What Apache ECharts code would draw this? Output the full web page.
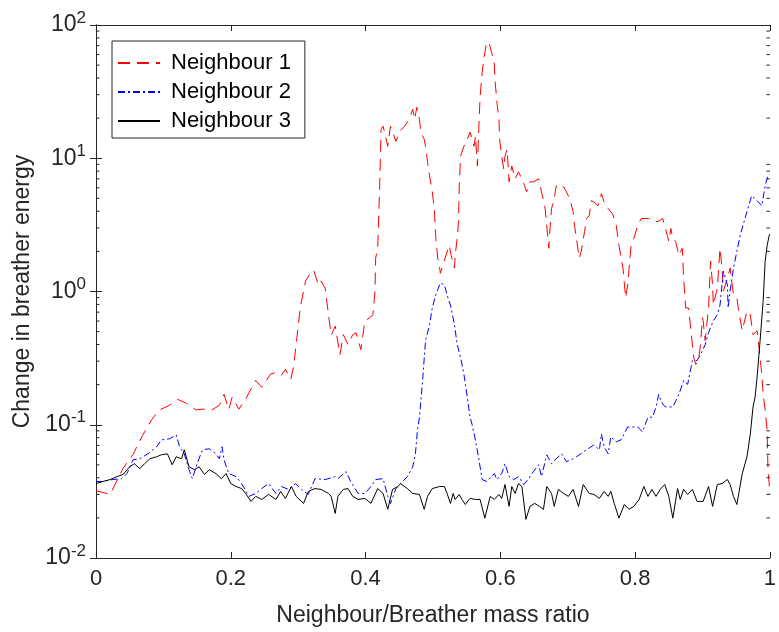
<!DOCTYPE html>
<html><head><meta charset="utf-8">
<script src="https://cdn.jsdelivr.net/npm/echarts@6/dist/echarts.min.js"></script>
<style>html,body{margin:0;padding:0;background:#fff}#c{width:779px;height:632px}</style>
</head><body><div id="c"></div>
<script>
const seriesNames = ['Neighbour 1', 'Neighbour 2', 'Neighbour 3'];
const xTickValues = [0, 0.2, 0.4, 0.6, 0.8, 1];
const yDecadeExponents = [-2, -1, 0, 1, 2];

const n1x = [0,0.021,0.040,0.055,0.069,0.083,0.094,0.109,0.121,0.134,0.138,0.149,0.158,0.168,0.172,0.183,0.190,0.197,0.202,0.212,0.222,0.237,0.246,0.259,0.267,0.275,0.281,0.289,0.293,0.297,0.303,0.311,0.318,0.323,0.330,0.334,0.340,0.345,0.349,0.355,0.362,0.367,0.374,0.381,0.386,0.393,0.399,0.406,0.411,0.414,0.415,0.418,0.421,0.423,0.426,0.433,0.437,0.445,0.451,0.458,0.465,0.470,0.473,0.476,0.480,0.482,0.487,0.489,0.492,0.495,0.499,0.502,0.504,0.507,0.510,0.511,0.518,0.524,0.527,0.532,0.533,0.536,0.538,0.539,0.541,0.546,0.551,0.555,0.561,0.563,0.566,0.568,0.570,0.573,0.576,0.579,0.583,0.586,0.591,0.592,0.595,0.598,0.599,0.602,0.605,0.607,0.610,0.613,0.617,0.622,0.627,0.632,0.636,0.639,0.644,0.649,0.657,0.661,0.666,0.668,0.672,0.673,0.676,0.680,0.683,0.686,0.694,0.698,0.703,0.708,0.710,0.713,0.717,0.720,0.725,0.728,0.732,0.735,0.739,0.745,0.750,0.754,0.760,0.767,0.772,0.776,0.782,0.786,0.789,0.794,0.798,0.804,0.809,0.820,0.826,0.834,0.841,0.845,0.850,0.853,0.856,0.860,0.865,0.870,0.872,0.875,0.879,0.882,0.885,0.887,0.890,0.894,0.897,0.900,0.901,0.904,0.909,0.912,0.915,0.916,0.922,0.926,0.929,0.931,0.937,0.941,0.946,0.951,0.953,0.959,0.966,0.971,0.975,0.981,0.985,0.988,0.990,0.993,0.996,0.997,1.0];
const n1y = [0.032,0.030,0.047,0.060,0.083,0.11,0.129,0.140,0.155,0.145,0.140,0.129,0.131,0.130,0.129,0.140,0.169,0.130,0.161,0.131,0.156,0.215,0.191,0.240,0.247,0.235,0.260,0.219,0.269,0.40,0.75,1.20,1.37,1.45,1.12,1.20,1.06,0.67,0.47,0.55,0.336,0.474,0.40,0.474,0.49,0.366,0.60,0.635,0.67,1.01,1.78,2.1,6.2,16.5,17.4,12.3,17.4,13.4,16.0,17.4,19.6,23.3,19.6,24.1,19.6,15.7,13.9,12.3,9.38,7.38,5.6,4.19,2.64,1.78,1.5,1.37,1.78,2.22,1.87,1.5,1.87,2.5,3.4,6.2,10.4,12.3,13.9,15.7,12.3,14.7,8.76,16.5,29.1,43.9,57.7,71,74.7,65.1,52.1,38.9,26.2,19.6,13.9,10.4,8.32,10.4,11.7,6.65,8.76,7.0,7.9,7.0,6.21,5.6,6.65,6.65,7.0,5.6,4.4,3.5,2.11,2.64,4.19,4.97,6.21,5.9,6.1,5.6,4.97,3.98,3.13,2.5,1.78,2.0,2.82,3.53,3.72,4.8,4.7,4.4,5.42,4.7,4.19,3.8,3.13,2.22,1.5,0.895,1.12,2.22,2.5,3.13,3.53,3.53,3.35,3.35,3.53,2.97,2.38,2.97,2.5,2.38,1.87,2.11,1.26,0.753,0.753,0.562,0.399,0.32,0.284,0.303,0.399,0.635,0.60,0.428,0.753,1.69,1.12,0.79,1.06,2.11,1.5,1.01,1.26,1.5,0.94,0.895,0.753,0.508,0.716,0.668,0.474,0.508,0.336,0.239,0.169,0.129,0.09,0.05,0.03];

const n2x = [0,0.010,0.025,0.038,0.046,0.055,0.065,0.077,0.090,0.097,0.109,0.119,0.124,0.131,0.138,0.143,0.150,0.158,0.168,0.178,0.183,0.187,0.190,0.197,0.208,0.216,0.227,0.237,0.246,0.256,0.267,0.275,0.286,0.296,0.305,0.315,0.325,0.340,0.355,0.359,0.371,0.378,0.389,0.399,0.408,0.415,0.426,0.433,0.437,0.445,0.452,0.462,0.470,0.474,0.477,0.480,0.485,0.489,0.495,0.499,0.504,0.511,0.517,0.521,0.526,0.532,0.536,0.541,0.546,0.551,0.555,0.558,0.563,0.568,0.573,0.580,0.591,0.595,0.602,0.607,0.613,0.620,0.627,0.635,0.642,0.649,0.657,0.661,0.669,0.676,0.683,0.691,0.698,0.708,0.713,0.728,0.739,0.747,0.750,0.754,0.760,0.764,0.772,0.779,0.789,0.797,0.804,0.811,0.819,0.826,0.831,0.835,0.838,0.841,0.845,0.856,0.865,0.872,0.878,0.885,0.892,0.900,0.904,0.909,0.916,0.922,0.926,0.931,0.937,0.938,0.941,0.946,0.951,0.956,0.963,0.966,0.973,0.981,0.988,0.993,0.997,1.0];
const n2y = [0.0375,0.0375,0.0388,0.0394,0.043,0.0546,0.0556,0.0605,0.0683,0.077,0.0784,0.0839,0.0683,0.0605,0.046,0.0394,0.051,0.0649,0.066,0.0605,0.0556,0.0683,0.0546,0.043,0.0408,0.0362,0.029,0.0305,0.0332,0.0362,0.0305,0.0344,0.0327,0.0362,0.0327,0.030,0.0394,0.0388,0.0408,0.0394,0.0445,0.0375,0.0305,0.0305,0.0344,0.0388,0.0394,0.029,0.0257,0.0332,0.0362,0.0408,0.0484,0.0605,0.0914,0.114,0.227,0.428,0.562,0.753,0.94,1.16,1.12,0.94,0.79,0.562,0.399,0.32,0.239,0.161,0.114,0.101,0.077,0.0556,0.0388,0.0375,0.043,0.0388,0.043,0.051,0.0408,0.0388,0.0408,0.0356,0.0394,0.0445,0.0501,0.0408,0.0595,0.051,0.0556,0.0605,0.0528,0.0556,0.0575,0.0649,0.0706,0.0649,0.0853,0.0683,0.0605,0.0811,0.0744,0.077,0.0962,0.0962,0.0962,0.0883,0.114,0.114,0.136,0.169,0.153,0.143,0.136,0.136,0.169,0.215,0.201,0.303,0.303,0.36,0.399,0.491,0.603,0.668,0.79,1.42,1.12,0.753,1.01,1.5,2.0,2.64,3.53,3.98,5.24,4.8,4.4,6.21,7.38,7.5];

const n3x = [0,0.010,0.021,0.031,0.040,0.050,0.057,0.065,0.072,0.080,0.090,0.097,0.106,0.113,0.119,0.127,0.131,0.138,0.146,0.153,0.161,0.168,0.178,0.186,0.193,0.200,0.208,0.216,0.222,0.230,0.237,0.246,0.256,0.267,0.274,0.281,0.290,0.297,0.308,0.315,0.325,0.334,0.345,0.349,0.355,0.359,0.367,0.374,0.381,0.389,0.399,0.408,0.418,0.426,0.433,0.440,0.448,0.452,0.462,0.470,0.480,0.487,0.492,0.499,0.510,0.517,0.521,0.526,0.530,0.533,0.539,0.543,0.548,0.555,0.563,0.570,0.577,0.585,0.591,0.598,0.602,0.607,0.613,0.617,0.622,0.627,0.632,0.638,0.644,0.651,0.658,0.664,0.669,0.676,0.680,0.686,0.694,0.701,0.708,0.716,0.723,0.732,0.739,0.747,0.754,0.760,0.764,0.769,0.776,0.784,0.791,0.798,0.806,0.813,0.819,0.825,0.831,0.838,0.844,0.850,0.856,0.863,0.867,0.872,0.878,0.885,0.892,0.901,0.909,0.915,0.922,0.929,0.937,0.941,0.946,0.951,0.959,0.966,0.971,0.975,0.978,0.981,0.985,0.990,0.993,0.996,0.999,1.0];
const n3y = [0.0362,0.0375,0.0388,0.0408,0.0423,0.0484,0.051,0.0468,0.051,0.0556,0.0575,0.0595,0.0605,0.0501,0.0575,0.0556,0.0649,0.0484,0.046,0.0484,0.0423,0.046,0.043,0.0394,0.043,0.0362,0.0344,0.0332,0.0305,0.0266,0.029,0.0275,0.030,0.0275,0.0316,0.028,0.0344,0.029,0.0257,0.0316,0.0332,0.0327,0.0305,0.029,0.0216,0.029,0.0327,0.0332,0.029,0.0275,0.028,0.0257,0.0332,0.0305,0.0232,0.0327,0.0344,0.0362,0.0332,0.0305,0.030,0.0232,0.029,0.0332,0.0344,0.0344,0.0305,0.0257,0.0305,0.0275,0.030,0.0275,0.0252,0.028,0.0275,0.0275,0.0199,0.029,0.0275,0.030,0.028,0.0356,0.0244,0.0344,0.0305,0.0362,0.0344,0.0195,0.0244,0.0257,0.0244,0.0232,0.0344,0.0305,0.0244,0.0327,0.0305,0.029,0.0327,0.0244,0.0356,0.0305,0.030,0.028,0.0316,0.029,0.0316,0.0257,0.0199,0.0252,0.0232,0.0244,0.0275,0.0344,0.029,0.0327,0.029,0.0332,0.0356,0.029,0.0199,0.0332,0.0275,0.0327,0.030,0.0327,0.0266,0.0266,0.0344,0.0244,0.0356,0.0362,0.0388,0.0356,0.029,0.0252,0.043,0.0575,0.0853,0.136,0.161,0.227,0.399,0.85,1.69,2.22,2.64,2.7];

const FONT = 'Liberation Sans';
const AX = '#262626';
const zip = (xs, ys) => xs.map((x, i) => [x, ys[i]]);
const minorTicks = [];
yDecadeExponents.slice(0, -1).forEach(e => { for (let k = 2; k <= 9; k++) minorTicks.push([0, k * Math.pow(10, e)]); });

const chart = echarts.init(document.getElementById('c'), null, { renderer: 'canvas' });
const axisCommon = {
  axisLine: { show: true, lineStyle: { color: AX, width: 1 } },
  axisTick: { show: true, inside: true, length: 6, lineStyle: { color: AX, width: 1 } },
  splitLine: { show: false }
};
const supLabel = v => {
  const e = Math.round(Math.log10(v));
  return '{b|10}{s|' + e + '}';
};
chart.setOption({
  animation: false,
  backgroundColor: '#fff',
  grid: { left: 96, right: 4, top: 25, bottom: 70 },
  legend: {
    data: seriesNames, orient: 'vertical', left: 112, top: 41,
    itemWidth: 42, itemHeight: 14, itemGap: 7, padding: [11, 14, 6, 5],
    borderColor: AX, borderWidth: 1, backgroundColor: '#fff', borderRadius: 0,
    itemStyle: { opacity: 0 },
    textStyle: { fontFamily: FONT, fontSize: 22, color: '#000', padding: [0, 0, 0, 6] }
  },
  xAxis: [
    Object.assign({
      type: 'value', min: 0, max: 1, interval: 0.2, position: 'bottom',
      axisLabel: { fontFamily: FONT, fontSize: 22, color: AX, margin: 10,
        formatter: v => xTickValues.includes(+v.toFixed(1)) ? String(+v.toFixed(1)) : '' },
      name: 'Neighbour/Breather mass ratio', nameLocation: 'middle', nameGap: 46,
      nameTextStyle: { fontFamily: FONT, fontSize: 23, color: AX }
    }, axisCommon),
    Object.assign({ type: 'value', min: 0, max: 1, interval: 0.2, position: 'top', axisLabel: { show: false } }, axisCommon)
  ],
  yAxis: [
    Object.assign({
      type: 'log', logBase: 10, min: 0.01, max: 100, interval: 1, position: 'left',
      axisLabel: { margin: 10, formatter: supLabel,
        rich: { b: { fontFamily: FONT, fontSize: 23, color: AX },
                s: { fontFamily: FONT, fontSize: 17, color: AX, padding: [0, 0, 14, 0] } } },
      name: 'Change in breather energy', nameLocation: 'middle', nameGap: 62, nameRotate: 90,
      nameTextStyle: { fontFamily: FONT, fontSize: 23, color: AX }
    }, axisCommon),
    Object.assign({ type: 'log', logBase: 10, min: 0.01, max: 100, interval: 1, position: 'right', axisLabel: { show: false } }, axisCommon)
  ],
  series: [
    { name: seriesNames[0], type: 'line', data: zip(n1x, n1y), showSymbol: false, symbol: 'none',
      itemStyle: { color: '#ff0000' }, lineStyle: { color: '#ff0000', width: 1, type: [12, 7] }, z: 2 },
    { name: seriesNames[1], type: 'line', data: zip(n2x, n2y), showSymbol: false, symbol: 'none',
      itemStyle: { color: '#0000ff' }, lineStyle: { color: '#0000ff', width: 1, type: [7, 3, 2, 3] }, z: 3 },
    { name: seriesNames[2], type: 'line', data: zip(n3x, n3y), showSymbol: false, symbol: 'none',
      itemStyle: { color: '#000000' }, lineStyle: { color: '#000000', width: 1 }, z: 4 },
    { type: 'custom', data: minorTicks, silent: true, clip: false, z: 5,
      renderItem: (params, api) => {
        const v = api.value(1);
        const l = api.coord([0, v]);
        const r = api.coord([1, v]);
        return { type: 'group', children: [
          { type: 'line', shape: { x1: l[0], y1: l[1], x2: l[0] + 3.5, y2: l[1] }, style: { stroke: AX, lineWidth: 1 } },
          { type: 'line', shape: { x1: r[0], y1: r[1], x2: r[0] - 3.5, y2: r[1] }, style: { stroke: AX, lineWidth: 1 } }
        ] };
      } }
  ]
});
</script></body></html>
